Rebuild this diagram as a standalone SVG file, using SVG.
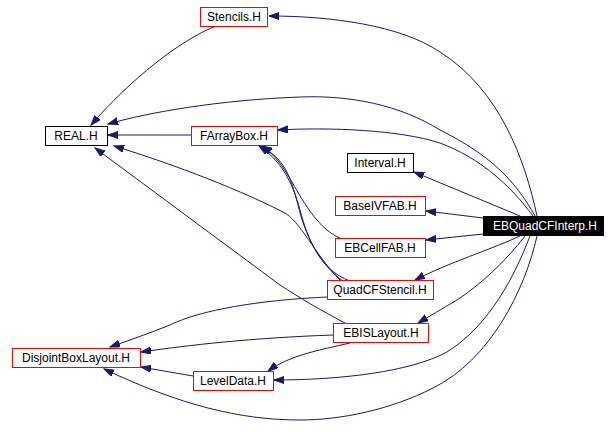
<svg xmlns="http://www.w3.org/2000/svg" width="616" height="445" viewBox="0 0 616 445">
<style>
.n rect{fill:#ffffff;stroke:#ff0000;stroke-width:1}
.n text{font-family:"Liberation Sans",Arial,sans-serif;font-size:12px;fill:#000000;text-anchor:middle}
.b rect{stroke:#000000}
.f rect{fill:#000000;stroke:#000000}
.f text{fill:#ffffff}
.e path{fill:none;stroke:#191970;stroke-width:1;marker-end:url(#ah)}
</style>
<defs>
<marker id="ah" markerUnits="userSpaceOnUse" markerWidth="11" markerHeight="8" refX="10" refY="3.5" orient="auto">
<path d="M0,0 L10,3.5 L0,7 z" fill="#191970" stroke="#191970" stroke-width="1"/>
</marker>
</defs>
<rect width="616" height="445" fill="#ffffff"/>
<g id="edges" class="e">
<path d="M537,216 C525,160 500,90 440,52 C400,25 330,16 269,16"/>
<path d="M535,216 C515,180 490,155 440,130 C400,105 350,95 300,97 C220,100 150,112 108,124"/>
<path d="M533,216 C510,185 480,158 440,143 C400,130 330,127 278,130"/>
<path d="M520,216 L414,172"/>
<path d="M483,218 L426,211"/>
<path d="M483,234 L426,240"/>
<path d="M520,236 C490,250 450,262 415,280"/>
<path d="M525,236 C505,262 480,285 457,300 C440,310 430,316 418,323"/>
<path d="M530,236 C515,275 490,325 447,352 C410,372 340,380 274,380"/>
<path d="M537,236 C525,290 490,360 433,388 C390,410 340,420 300,420 C240,420 180,405 104,369"/>
<path d="M216,26 C180,40 130,80 91,125"/>
<path d="M191,135 L108,135"/>
<path d="M340,280 C315,255 300,220 283,212 C230,185 160,160 114,146"/>
<path d="M350,281 C320,270 308,240 300,210 C292,180 280,160 259,146"/>
<path d="M343,281 C320,265 305,235 298,205 C290,175 285,160 261,146"/>
<path d="M340,238 C320,230 305,205 292,182 C282,165 275,155 262,146"/>
<path d="M345,323 C320,310 300,298 280,285 L95,148"/>
<path d="M327,297 C260,300 200,310 170,325 C150,333 130,340 110,347"/>
<path d="M333,335 C250,338 190,345 141,352"/>
<path d="M350,343 C320,350 290,355 268,371"/>
<path d="M193,376 L141,367"/>
</g>
<g id="stencils" class="n"><rect x="200.5" y="7.5" width="67" height="19"/><text x="234" y="21">Stencils.H</text></g>
<g id="real" class="n b"><rect x="45.5" y="126.5" width="62" height="19"/><text x="76" y="140">REAL.H</text></g>
<g id="farraybox" class="n"><rect x="191.5" y="126.5" width="86" height="19"/><text x="234" y="140">FArrayBox.H</text></g>
<g id="interval" class="n b"><rect x="347.5" y="153.5" width="66" height="19"/><text x="380" y="167">Interval.H</text></g>
<g id="baseivfab" class="n"><rect x="335.5" y="196.5" width="90" height="19"/><text x="380" y="210">BaseIVFAB.H</text></g>
<g id="ebquadcfinterp" class="n f"><rect x="483.5" y="216.5" width="120" height="19"/><text x="545" y="230">EBQuadCFInterp.H</text></g>
<g id="ebcellfab" class="n"><rect x="335.5" y="238.5" width="90" height="19"/><text x="380" y="252">EBCellFAB.H</text></g>
<g id="quadcfstencil" class="n"><rect x="327.5" y="280.5" width="106" height="19"/><text x="380" y="294">QuadCFStencil.H</text></g>
<g id="ebislayout" class="n"><rect x="333.5" y="323.5" width="95" height="19"/><text x="381" y="337">EBISLayout.H</text></g>
<g id="disjointboxlayout" class="n"><rect x="12.5" y="348.5" width="128" height="19"/><text x="76" y="362">DisjointBoxLayout.H</text></g>
<g id="leveldata" class="n"><rect x="193.5" y="371.5" width="80" height="19"/><text x="233" y="385">LevelData.H</text></g>
</svg>
